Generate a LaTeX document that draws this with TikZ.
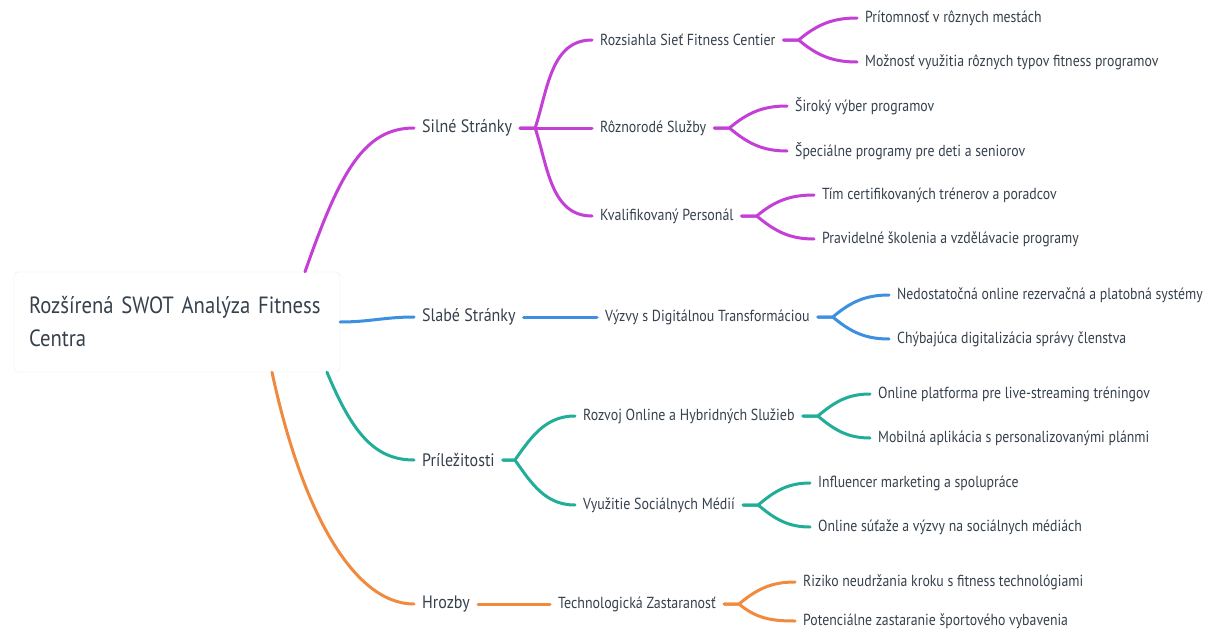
\documentclass[tikz,border=0pt]{standalone}
\usepackage{fontspec}
\setmainfont{PT Sans}[FakeStretch=0.9]
\newfontfamily\fone{PT Sans}[FakeStretch=0.89]
\newfontfamily\ftwo{PT Sans}[FakeStretch=0.873]
\newfontfamily\fthree{PT Sans}[FakeStretch=0.861]
\newfontfamily\froot{PT Sans}[FakeStretch=0.88]
\definecolor{cpur}{HTML}{C43FD6}
\definecolor{cblu}{HTML}{3D8FE0}
\definecolor{ctea}{HTML}{22AD99}
\definecolor{corg}{HTML}{F08A3E}
\definecolor{ctxt}{HTML}{36414D}
\begin{document}
\begin{tikzpicture}[x=1pt,y=1pt,
  lbl/.style={anchor=west, inner xsep=8pt, inner ysep=2pt, text=ctxt},
  lone/.style={lbl, font=\fone\fontsize{18}{20}\selectfont},
  ltwo/.style={lbl, font=\ftwo\fontsize{16}{18}\selectfont},
  lthree/.style={lbl, font=\fthree\fontsize{16}{18}\selectfont},
  rootbox/.style={draw=black!8, fill=white, rounded corners=4pt, text width=296pt,
    minimum height=100pt, inner xsep=15pt, align=left, text=ctxt,
    font=\froot\fontsize{23.5}{33}\selectfont},
  con/.style={line width=3pt, line cap=round},
]
\useasboundingbox (0,0) rectangle (1208,-632);
\fill[white] (0,0) rectangle (1208,-632);

% level 1
\node[lone] (s) at (414,-128) {Silné Stránky};
\node[lone] (w) at (414,-317) {Slabé Stránky};
\node[lone] (o) at (414,-460) {Príležitosti};
\node[lone] (t) at (414,-604) {Hrozby};

% level 2
\node[ltwo] (s1) at (592,-40) {Rozsiahla Sieť Fitness Centier};
\node[ltwo] (s2) at (592,-128) {Rôznorodé Služby};
\node[ltwo] (s3) at (592,-216) {Kvalifikovaný Personál};
\node[ltwo] (w1) at (597,-317) {Výzvy s Digitálnou Transformáciou};
\node[ltwo] (o1) at (575,-416) {Rozvoj Online a Hybridných Služieb};
\node[ltwo] (o2) at (575,-505) {Využitie Sociálnych Médií};
\node[ltwo] (t1) at (550,-604) {Technologická Zastaranosť};

% level 3
\node[lthree] (s11) at (857,-18) {Prítomnosť v rôznych mestách};
\node[lthree] (s12) at (857,-62) {Možnosť využitia rôznych typov fitness programov};
\node[lthree] (s21) at (787,-106) {Široký výber programov};
\node[lthree] (s22) at (787,-151) {Špeciálne programy pre deti a seniorov};
\node[lthree] (s31) at (814,-195) {Tím certifikovaných trénerov a poradcov};
\node[lthree] (s32) at (814,-239) {Pravidelné školenia a vzdělávacie programy};
\node[lthree] (w11) at (889,-295) {Nedostatočná online rezervačná a platobná systémy};
\node[lthree] (w12) at (889,-339) {Chýbajúca digitalizácia správy členstva};
\node[lthree] (o11) at (870,-394) {Online platforma pre live-streaming tréningov};
\node[lthree] (o12) at (870,-438) {Mobilná aplikácia s personalizovanými plánmi};
\node[lthree] (o21) at (810,-483) {Influencer marketing a spolupráce};
\node[lthree] (o22) at (810,-527) {Online súťaže a výzvy na sociálnych médiách};
\node[lthree] (t11) at (795,-582) {Riziko neudržania kroku s fitness technológiami};
\node[lthree] (t12) at (795,-621) {Potenciálne zastaranie športového vybavenia};

% root
\node[rootbox] (r) at (177,-322) {Rozšírená SWOT Analýza Fitness\\Centra};

% root connectors
\draw[con,cpur] ([xshift=128pt]r.north) .. controls +(35,100) and +(-50,0) .. (s.west);
\draw[con,cblu] (r.east) to[out=0,in=180] (w.west);
\draw[con,ctea] ([xshift=150pt]r.south) .. controls +(25,-60) and +(-40,0) .. (o.west);
\draw[con,corg] ([xshift=95pt]r.south) .. controls +(30,-140) and +(-60,0) .. (t.west);

% Silné
\draw[con,cpur] (s.east) -- ++(15,0) to[out=72,in=180] (s1.west);
\draw[con,cpur] (s.east) -- (s2.west);
\draw[con,cpur] (s.east) -- ++(15,0) to[out=-72,in=180] (s3.west);
\draw[con,cpur] (s1.east) -- ++(15,0) to[out=40,in=180] (s11.west);
\draw[con,cpur] (s1.east) -- ++(15,0) to[out=-40,in=180] (s12.west);
\draw[con,cpur] (s2.east) -- ++(15,0) to[out=40,in=180] (s21.west);
\draw[con,cpur] (s2.east) -- ++(15,0) to[out=-40,in=180] (s22.west);
\draw[con,cpur] (s3.east) -- ++(15,0) to[out=40,in=180] (s31.west);
\draw[con,cpur] (s3.east) -- ++(15,0) to[out=-40,in=180] (s32.west);

% Slabé
\draw[con,cblu] (w.east) -- (w1.west);
\draw[con,cblu] (w1.east) -- ++(15,0) to[out=40,in=180] (w11.west);
\draw[con,cblu] (w1.east) -- ++(15,0) to[out=-40,in=180] (w12.west);

% Príležitosti
\draw[con,ctea] (o.east) -- ++(12,0) to[out=55,in=180] (o1.west);
\draw[con,ctea] (o.east) -- ++(12,0) to[out=-55,in=180] (o2.west);
\draw[con,ctea] (o1.east) -- ++(15,0) to[out=40,in=180] (o11.west);
\draw[con,ctea] (o1.east) -- ++(15,0) to[out=-40,in=180] (o12.west);
\draw[con,ctea] (o2.east) -- ++(15,0) to[out=40,in=180] (o21.west);
\draw[con,ctea] (o2.east) -- ++(15,0) to[out=-40,in=180] (o22.west);

% Hrozby
\draw[con,corg] (t.east) -- (t1.west);
\draw[con,corg] (t1.east) -- ++(15,0) to[out=40,in=180] (t11.west);
\draw[con,corg] (t1.east) -- ++(15,0) to[out=-40,in=180] (t12.west);
\end{tikzpicture}
\end{document}
